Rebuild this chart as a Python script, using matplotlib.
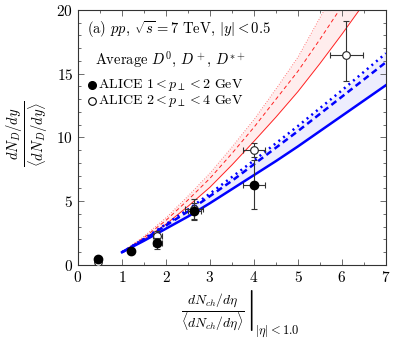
import matplotlib
matplotlib.use("Agg")
import matplotlib.pyplot as plt
from matplotlib.ticker import MultipleLocator

plt.rcParams['font.family'] = 'serif'
plt.rcParams['font.serif'] = ['cmr10', 'DejaVu Serif']
plt.rcParams['mathtext.fontset'] = 'cm'
plt.rcParams['axes.formatter.use_mathtext'] = True

# ALICE data
x_filled = [0.45, 1.2, 1.8, 2.64, 4.0]
y_filled = [0.45, 1.1, 1.7, 4.2, 6.3]
xerr_filled = [0.02, 0.05, 0.1, 0.15, 0.24]
yerr_filled = [0.1, 0.15, 0.45, 0.7, 1.9]

x_open = [0.45, 1.8, 2.64, 4.0, 6.1]
y_open = [0.2, 2.3, 4.4, 9.0, 16.5]
xerr_open = [0.02, 0.1, 0.2, 0.24, 0.37]
yerr_open_lo = [0.1, 0.35, 0.8, 0.55, 2.1]
yerr_open_hi = [0.1, 0.35, 0.8, 0.55, 2.6]

# model curves
x_model = [1.0, 1.5, 2.0, 2.5, 3.0, 3.5, 4.0, 4.5, 5.0, 5.5, 6.0, 6.5, 7.0]
blue_solid = [1.0, 1.9, 2.85, 3.8, 4.85, 5.95, 7.05, 8.15, 9.3, 10.5, 11.7, 12.9, 14.1]
blue_dashed = [1.0, 2.0, 3.1, 4.2, 5.4, 6.6, 7.9, 9.2, 10.5, 11.85, 13.2, 14.55, 15.9]
blue_dotted = [1.0, 2.05, 3.2, 4.35, 5.6, 6.9, 8.2, 9.55, 10.9, 12.3, 13.7, 15.15, 16.6]
red_solid = [1.0, 2.0, 3.2, 4.6, 6.1, 7.85, 9.7, 11.6, 13.6, 15.8, 18.1, 20.5, 23.0]
red_dashed = [1.0, 2.15, 3.5, 5.1, 6.8, 8.75, 10.8, 13.0, 15.2, 17.7, 20.3, 23.0, 26.0]
red_dotted = [1.0, 2.25, 3.7, 5.4, 7.2, 9.25, 11.4, 13.8, 16.3, 19.4, 22.3, 25.3, 28.3]

fig = plt.figure(figsize=(3.95, 3.41), dpi=100)
ax = fig.add_axes([0.1975, 0.2229, 0.7795, 0.7478])

ax.fill_between(x_model, red_solid, red_dotted, color='#ffeded', lw=0, zorder=1)
ax.fill_between(x_model, blue_solid, blue_dotted, color='#ededfd', lw=0, zorder=1)

ax.plot(x_model, red_solid, color='#ff2020', lw=0.7, zorder=2)
ax.plot(x_model, red_dashed, color='#ff2020', lw=0.7, dashes=(4, 3), zorder=2)
ax.plot(x_model, red_dotted, color='#ff5050', lw=0.7, dashes=(0.7, 2), zorder=2)

ax.plot(x_model, blue_solid, color='#0000ff', lw=1.8, zorder=3)
ax.plot(x_model, blue_dashed, color='#0000ff', lw=1.8, dashes=(2.5, 1.6), zorder=3)
ax.plot(x_model, blue_dotted, color='#0000ff', lw=1.8, dashes=(0.8, 1.6), zorder=3)

ax.errorbar(x_open, y_open, xerr=xerr_open, yerr=[yerr_open_lo, yerr_open_hi],
            fmt='o', mfc='white', mec='#222222', mew=0.8, ms=5.5,
            ecolor='#333333', elinewidth=0.8, capsize=2.5, capthick=0.8, zorder=4)
ax.errorbar(x_filled, y_filled, xerr=xerr_filled, yerr=yerr_filled,
            fmt='o', mfc='black', mec='black', ms=6,
            ecolor='#333333', elinewidth=0.8, capsize=2.5, capthick=0.8, zorder=5)

ax.set_xlim(0, 7)
ax.set_ylim(0, 20)
ax.xaxis.set_major_locator(MultipleLocator(1))
ax.xaxis.set_minor_locator(MultipleLocator(0.5))
ax.yaxis.set_major_locator(MultipleLocator(5))
ax.yaxis.set_minor_locator(MultipleLocator(1))
ax.tick_params(which='both', direction='in', top=True, right=True, labelsize=11,
               color='#555555', width=0.6)
ax.tick_params(which='major', length=4)
ax.tick_params(which='minor', length=2)
for s in ax.spines.values():
    s.set_linewidth(0.8)
    s.set_color('#333333')

ax.text(0.03, 0.965, r'(a) $pp$, $\sqrt{s}=7$ TeV, $|y|<0.5$', transform=ax.transAxes,
        fontsize=10.5, va='top', ha='left')
ax.text(0.055, 0.845, r'Average $D^0$, $D^+$, $D^{*+}$', transform=ax.transAxes,
        fontsize=10.5, va='top', ha='left')

ax.plot([0.32], [14.1], 'o', color='black', ms=5.5, zorder=6)
ax.plot([0.32], [12.9], 'o', mfc='white', mec='black', mew=0.8, ms=5.5, zorder=6)
ax.text(0.45, 14.1, r'ALICE $1<p_\perp<2$ GeV', fontsize=10, va='center', ha='left')
ax.text(0.45, 12.85, r'ALICE $2<p_\perp<4$ GeV', fontsize=10, va='center', ha='left')

fig.text(0.068, 0.607, r'$\frac{dN_D/dy}{\langle dN_D/dy\rangle}$', rotation=90,
         fontsize=15, va='center', ha='center')
fig.text(0.643, 0.089, r'$\left.\frac{dN_{ch}/d\eta}{\langle dN_{ch}/d\eta\rangle}\right|$',
         fontsize=14, va='center', ha='right')
fig.text(0.646, 0.029, r'$|\eta|<1.0$', fontsize=9, va='center', ha='left')

fig.savefig('out.png', dpi=100)
